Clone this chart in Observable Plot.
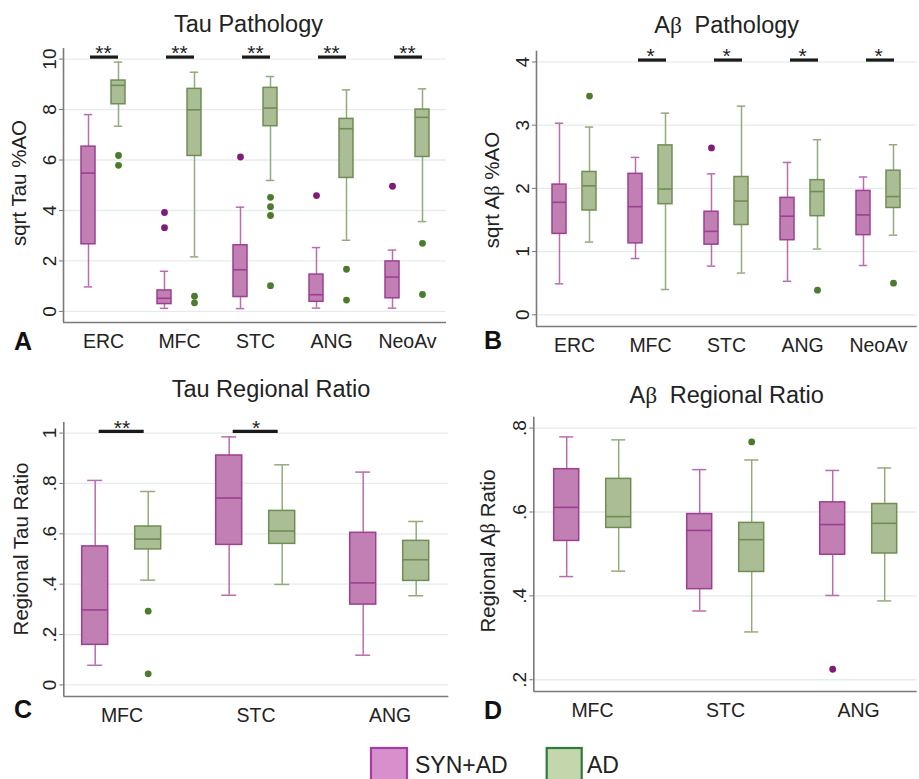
<!DOCTYPE html>
<html><head><meta charset="utf-8">
<script src="https://cdn.jsdelivr.net/npm/d3@7"></script>
<script src="https://cdn.jsdelivr.net/npm/@observablehq/plot@0.6"></script>
<style>
body{margin:0;background:#fff;}
#fig{position:relative;width:919px;height:779px;overflow:hidden;background:#fff;}
#fig svg{position:absolute;}
</style></head><body><div id="fig"></div>
<script>
// ---------- DATA ----------
const regions5 = ["ERC","MFC","STC","ANG","NeoAv"];
const regions3 = ["MFC","STC","ANG"];
const groups = ["SYN+AD","AD"];
// box stats per region: [lower whisker, Q1, median, Q3, upper whisker]
// A: Tau Pathology (sqrt Tau %AO)
const tauSyn = [[0.97,2.66,5.48,6.53,7.80],[0.12,0.29,0.52,0.83,1.59],[0.11,0.57,1.65,2.62,4.13],[0.13,0.38,0.66,1.46,2.53],[0.13,0.52,1.36,1.98,2.43]];
const tauAd  = [[7.34,8.21,8.96,9.15,9.88],[2.16,6.16,7.99,8.82,9.48],[5.19,7.34,8.06,8.86,9.31],[2.82,5.29,7.24,7.63,8.78],[3.56,6.12,7.69,8.00,8.82]];
const tauSynOut = [[],[3.92,3.32],[6.12],[4.59],[4.96]];
const tauAdOut  = [[6.18,5.79],[0.60,0.34],[4.52,4.15,3.80,1.02],[1.67,0.45],[2.70,0.67]];
const tauSig = ["**","**","**","**","**"];
const tauSigLevel = 10.08;
const tauTicks = [0,2,4,6,8,10];
const tauTickLabels = ["0","2","4","6","8","10"];
// B: Abeta Pathology (sqrt Abeta %AO)
const abSyn = [[0.49,1.28,1.78,2.06,3.03],[0.89,1.13,1.71,2.23,2.49],[0.77,1.11,1.32,1.63,2.23],[0.53,1.18,1.56,1.85,2.41],[0.78,1.26,1.58,1.96,2.18]];
const abAd  = [[1.15,1.65,2.04,2.26,2.97],[0.40,1.75,1.99,2.68,3.19],[0.66,1.42,1.80,2.18,3.30],[1.04,1.56,1.95,2.13,2.77],[1.26,1.69,1.87,2.28,2.69]];
const abSynOut = [[],[],[2.64],[],[]];
const abAdOut  = [[3.46],[],[],[0.39],[0.50]];
const abSig = ["","*","*","*","*"];
const abSigLevel = 4.03;
const abTicks = [0,1,2,3,4];
const abTickLabels = ["0","1","2","3","4"];
// C: Tau Regional Ratio
const tauRSyn = [[0.078,0.159,0.298,0.550,0.812],[0.356,0.556,0.742,0.911,0.985],[0.118,0.319,0.405,0.604,0.845]];
const tauRAd  = [[0.416,0.538,0.579,0.629,0.768],[0.399,0.560,0.611,0.691,0.874],[0.354,0.413,0.497,0.572,0.649]];
const tauRSynOut = [[],[],[]];
const tauRAdOut  = [[0.293,0.044],[],[]];
const tauRSig = ["**","*",""];
const tauRSigLevel = 1.007;
const tauRTicks = [0,0.2,0.4,0.6,0.8,1];
const tauRTickLabels = ["0",".2",".4",".6",".8","1"];
// D: Abeta Regional Ratio
const abRSyn = [[0.446,0.531,0.611,0.702,0.779],[0.364,0.416,0.556,0.595,0.701],[0.401,0.498,0.570,0.623,0.699]];
const abRAd  = [[0.459,0.562,0.589,0.679,0.772],[0.314,0.457,0.534,0.574,0.724],[0.388,0.501,0.573,0.619,0.705]];
const abRSynOut = [[],[],[0.225]];
const abRAdOut  = [[],[0.767],[]];
const abRSig = ["","",""];
const abRSigLevel = 0.83;
const abRTicks = [0.2,0.4,0.6,0.8];
const abRTickLabels = [".2",".4",".6",".8"];

// ---------- STYLE ----------
const pal = {
  "SYN+AD": {fill:"#c17fb4", stroke:"#9c3f92", whisker:"#bb6cb0", dot:"#7e1c78"},
  "AD":     {fill:"#aabd94", stroke:"#6f8e53", whisker:"#93ab7c", dot:"#4c7b2d"}
};
const FONT = "'Liberation Sans', Arial, Helvetica, sans-serif";

function makeRows(regions, syn, ad) {
  const rows = [];
  regions.forEach((r, i) => {
    [[groups[0], syn[i]], [groups[1], ad[i]]].forEach(([g, s]) =>
      rows.push({region: r, group: g, lo: s[0], q1: s[1], med: s[2], q3: s[3], hi: s[4]}));
  });
  return rows;
}
function makeOut(regions, synOut, adOut) {
  const rows = [];
  regions.forEach((r, i) => {
    synOut[i].forEach(v => rows.push({region: r, group: groups[0], v}));
    adOut[i].forEach(v => rows.push({region: r, group: groups[1], v}));
  });
  return rows;
}
function makeSig(regions, sig, level) {
  return regions.map((r, i) => ({region: r, from: groups[0], to: groups[1], level, stars: sig[i]})).filter(d => d.stars);
}

const fig = document.getElementById("fig");

function panel(c) {
  const [mt, mr, mb, ml] = c.margin;
  const common = {
    width: c.width, height: c.height,
    marginTop: mt, marginRight: mr, marginBottom: mb, marginLeft: ml,
    style: {background: "transparent", fontFamily: FONT, fontSize: "17px", color: "#222", overflow: "visible"}
  };
  const bg = Plot.plot({
    ...common,
    x: {domain: [0, 1], axis: null},
    y: {domain: c.yDomain, axis: null},
    marks: [
      Plot.gridY(c.ticks, {stroke: "#e3edea", strokeOpacity: 1, strokeWidth: 1.3}),
      Plot.axisY(c.ticks, {tickRotate: -90, tickSize: 4, tickPadding: 4, fontSize: 19, stroke: "#777", label: null,
        tickFormat: d => c.tickLabels[c.ticks.indexOf(d)]}),
      Plot.ruleX([0], {stroke: "#7a7a7a", strokeWidth: 1.6}),
      Plot.ruleY([c.yDomain[0]], {stroke: "#7a7a7a", strokeWidth: 1.6})
    ]
  });
  const fg = Plot.plot({
    ...common,
    fx: {domain: c.regions, paddingInner: c.fxPad[0], paddingOuter: c.fxPad[1], label: null},
    x: {domain: groups, paddingInner: c.xPad[0], paddingOuter: c.xPad[1], axis: null},
    y: {domain: c.yDomain, axis: null},
    color: {type: "identity"},
    marks: [
      Plot.axisFx({anchor: "bottom", tickSize: 0, tickPadding: 12, fontSize: 19.5, label: null}),
      Plot.ruleX(c.rows, {fx: "region", x: "group", y1: "q3", y2: "hi", stroke: d => pal[d.group].whisker, strokeWidth: 1.5}),
      Plot.ruleX(c.rows, {fx: "region", x: "group", y1: "lo", y2: "q1", stroke: d => pal[d.group].whisker, strokeWidth: 1.5}),
      Plot.tickY(c.rows, {fx: "region", x: "group", y: "hi", stroke: d => pal[d.group].whisker, strokeWidth: 1.5, insetLeft: c.capInset, insetRight: c.capInset}),
      Plot.tickY(c.rows, {fx: "region", x: "group", y: "lo", stroke: d => pal[d.group].whisker, strokeWidth: 1.5, insetLeft: c.capInset, insetRight: c.capInset}),
      Plot.barY(c.rows, {fx: "region", x: "group", y1: "q1", y2: "q3", fill: d => pal[d.group].fill, stroke: d => pal[d.group].stroke, strokeWidth: 1.5}),
      Plot.tickY(c.rows, {fx: "region", x: "group", y: "med", stroke: d => pal[d.group].stroke, strokeWidth: 1.6}),
      Plot.dot(c.outs, {fx: "region", x: "group", y: "v", r: 3.4, fill: d => pal[d.group].dot, stroke: null}),
      Plot.ruleY(c.sigs, {fx: "region", x1: "from", x2: "to", y: "level", stroke: "#1a1a1a", strokeWidth: 3.2, insetLeft: c.sigInset[0], insetRight: c.sigInset[1]}),
      Plot.text(c.sigs, {fx: "region", y: "level", text: "stars", fontSize: 21, lineAnchor: "middle", dy: -3.5, fill: "#222"})
    ]
  });
  for (const el of [bg, fg]) {
    el.style.position = "absolute";
    el.style.left = c.left + "px";
    el.style.top = c.top + "px";
    el.style.maxWidth = "none";
    fig.appendChild(el);
  }
}

panel({left: 0, top: 0, width: 460, height: 360, margin: [48, 14, 38, 63], yDomain: [-0.44, 10.42],
  ticks: tauTicks, tickLabels: tauTickLabels, regions: regions5,
  rows: makeRows(regions5, tauSyn, tauAd), outs: makeOut(regions5, tauSynOut, tauAdOut), sigs: makeSig(regions5, tauSig, tauSigLevel),
  fxPad: [0, 0], xPad: [0.52, 0.52], capInset: 2.8, sigInset: [9, 7]});
panel({left: 460, top: 0, width: 459, height: 360, margin: [50.7, 2.3, 34, 76], yDomain: [-0.185, 4.17],
  ticks: abTicks, tickLabels: abTickLabels, regions: regions5,
  rows: makeRows(regions5, abSyn, abAd), outs: makeOut(regions5, abSynOut, abAdOut), sigs: makeSig(regions5, abSig, abSigLevel),
  fxPad: [0, 0], xPad: [0.52, 0.52], capInset: 2.8, sigInset: [10, 6]});
panel({left: 0, top: 360, width: 460, height: 380, margin: [62, 11.7, 44, 63.3], yDomain: [-0.046, 1.042],
  ticks: tauRTicks, tickLabels: tauRTickLabels, regions: regions3,
  rows: makeRows(regions3, tauRSyn, tauRAd), outs: makeOut(regions3, tauRSynOut, tauRAdOut), sigs: makeSig(regions3, tauRSig, tauRSigLevel),
  fxPad: [0.2, 0.031], xPad: [0.516, 0.26], capInset: 5.5, sigInset: [17, 17]});
panel({left: 460, top: 360, width: 459, height: 380, margin: [56.7, 2.3, 49, 73.3], yDomain: [0.172, 0.826],
  ticks: abRTicks, tickLabels: abRTickLabels, regions: regions3,
  rows: makeRows(regions3, abRSyn, abRAd), outs: makeOut(regions3, abRSynOut, abRAdOut), sigs: makeSig(regions3, abRSig, abRSigLevel),
  fxPad: [0.2, 0.031], xPad: [0.516, 0.26], capInset: 5.5, sigInset: [17, 17]});

// ---------- TEXT OVERLAY (titles, axis titles, panel letters, legend) ----------
const NS = "http://www.w3.org/2000/svg";
const ov = document.createElementNS(NS, "svg");
ov.setAttribute("width", 919); ov.setAttribute("height", 779);
ov.style.left = "0px"; ov.style.top = "0px";
ov.setAttribute("font-family", FONT);
ov.innerHTML = `
<g fill="#222" text-anchor="middle" font-size="23.5">
  <text x="248.5" y="31.5">Tau Pathology</text>
  <text x="726.7" y="32.5">A<tspan font-family="'Liberation Serif', serif">β</tspan>  <tspan dx="6">Pathology</tspan></text>
  <text x="271" y="397">Tau Regional Ratio</text>
  <text x="726.7" y="403">A<tspan font-family="'Liberation Serif', serif">β</tspan> <tspan dx="6">Regional Ratio</tspan></text>
</g>
<g fill="#222" text-anchor="middle" font-size="20.5">
  <text transform="translate(26,183) rotate(-90)">sqrt Tau %AO</text>
  <text transform="translate(499,190) rotate(-90)">sqrt A<tspan font-family="'Liberation Serif', serif">β</tspan> %AO</text>
  <text transform="translate(27.5,549) rotate(-90)">Regional Tau Ratio</text>
  <text transform="translate(495,551) rotate(-90)">Regional A<tspan font-family="'Liberation Serif', serif">β</tspan> Ratio</text>
</g>
<g fill="#111" font-weight="bold" font-size="25">
  <text x="14" y="350">A</text>
  <text x="484" y="349">B</text>
  <text x="14" y="718">C</text>
  <text x="484" y="719">D</text>
</g>
<rect x="371" y="748" width="36" height="40" fill="#d790cc" stroke="#a63ca6" stroke-width="2.2"/>
<text x="415" y="773" font-size="23" fill="#222">SYN+AD</text>
<rect x="546.7" y="748" width="35" height="40" fill="#c4d6ab" stroke="#2f7b3b" stroke-width="2.2"/>
<text x="587" y="773" font-size="23" fill="#222">AD</text>
`;
fig.appendChild(ov);
</script>
</body></html>
